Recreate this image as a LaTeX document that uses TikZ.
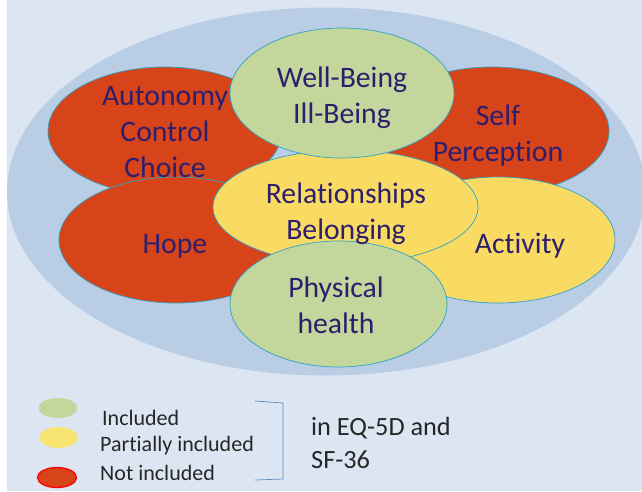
\documentclass[tikz,border=0pt]{standalone}
\usepackage{fontspec}
\setmainfont[Ligatures={NoCommon}]{Carlito}
\definecolor{bglight}{HTML}{DCE6F2}
\definecolor{bigblue}{HTML}{B9CDE5}
\definecolor{redfill}{HTML}{D8441A}
\definecolor{greenfill}{HTML}{C3D69B}
\definecolor{yellowfill}{HTML}{F9DB63}
\definecolor{legyellow}{HTML}{F8E473}
\definecolor{txtcol}{HTML}{2D1E6E}
\definecolor{edgecol}{HTML}{2FA3C5}
\definecolor{brackcol}{HTML}{5B8BC6}
\tikzset{
  blob/.style={draw=edgecol, line width=0.7pt},
  lbl/.style={text=txtcol, font=\fontsize{29.7}{36}\selectfont, align=center, inner sep=0pt},
  legtxt/.style={text=black!85, font=\fontsize{22}{24}\selectfont, anchor=west, inner sep=0pt},
  eqtxt/.style={text=black!85, font=\fontsize{26.3}{33}\selectfont, anchor=west, align=left, inner sep=0pt},
}
\begin{document}
\begin{tikzpicture}[x=1pt,y=-1pt]
\useasboundingbox (0,0) rectangle (642,491);
\fill[white] (0,0) rectangle (642,491);
\fill[bglight] (7,0) rectangle (642,491);
% outer ellipse
\fill[bigblue] (326,191.5) ellipse [x radius=319, y radius=184];
% coloured ellipses
\draw[blob, fill=redfill] (165,131) ellipse [x radius=117, y radius=64];
\draw[blob, fill=redfill] (492,131) ellipse [x radius=117, y radius=64];
\draw[blob, fill=redfill] (176,240) ellipse [x radius=117, y radius=63];
\draw[blob, fill=yellowfill] (498,240) ellipse [x radius=117, y radius=63];
\draw[blob, fill=yellowfill] (345.5,207) ellipse [x radius=132.5, y radius=57];
\draw[blob, fill=greenfill] (342,93) ellipse [x radius=112, y radius=65];
\draw[blob, fill=greenfill] (338.5,304) ellipse [x radius=108.5, y radius=63];
% labels
\node[lbl] (auto) at (165,132) {Autonomy\\Control\\Choice};
\node[lbl] (self) at (498,136) {Self\\Perception};
\node[lbl] (hope) at (175,246) {Hope};
\node[lbl] (act) at (520,246) {Activity};
\node[lbl] (wb) at (342,98) {Well-Being\\Ill-Being};
\node[lbl] (rel) at (346,214) {Relationships\\Belonging};
\node[lbl] (phys) at (336,305) {Physical\\health};
% legend
\fill[greenfill] (58,408) ellipse [x radius=19.5, y radius=10];
\fill[legyellow] (58.5,437.5) ellipse [x radius=19.5, y radius=10.5];
\draw[fill=redfill, draw=red, line width=1.3pt] (57,477.5) ellipse [x radius=19.5, y radius=10];
\node[legtxt] (inc) at (102,418) {Included};
\node[legtxt] (part) at (100,446) {Partially included};
\node[legtxt] (notinc) at (100,473) {Not included};
\coordinate (b1) at (255,401);
\coordinate (b2) at (283,403);
\coordinate (b3) at (283,479);
\coordinate (b4) at (255,480);
\draw[brackcol, line width=0.7pt] (b1) -- (b2) -- (b3) -- (b4);
\node[eqtxt] (eq) at (311,443) {in EQ-5D and\\SF-36};
\end{tikzpicture}
\end{document}
